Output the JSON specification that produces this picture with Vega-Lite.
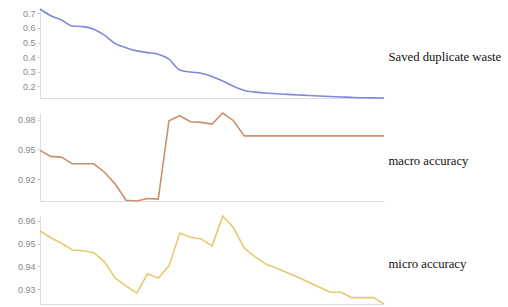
{
  "$schema": "https://vega.github.io/schema/vega-lite/v6.json",
  "padding": {"left": 17, "top": 5, "right": 5, "bottom": 2},
  "spacing": 7,
  "align": "none",
  "config": {
    "view": {"stroke": null},
    "axis": {"grid": false, "domainColor": "#dddddd", "tickColor": "#cccccc", "labelColor": "#888888", "labelFontSize": 9, "labelFont": "Liberation Sans", "tickSize": 3, "title": null},
    "axisX": {"labels": false, "ticks": false, "minExtent": 0, "maxExtent": 0, "labelPadding": 0},
    "axisRight": {"labels": false, "ticks": false, "domain": false, "titleAngle": 0, "titleAlign": "left", "titleBaseline": "middle", "titleFont": "Liberation Serif", "titleFontSize": 12.7, "titleFontWeight": "normal", "titleColor": "#111111", "titlePadding": 4, "minExtent": 0}
  },
  "data": {"values": [
    {"i": 0, "waste": 0.73, "macro": 0.949, "micro": 0.9556},
    {"i": 1, "waste": 0.684, "macro": 0.9429, "micro": 0.9526},
    {"i": 2, "waste": 0.655, "macro": 0.9422, "micro": 0.9502},
    {"i": 3, "waste": 0.614, "macro": 0.9354, "micro": 0.9472},
    {"i": 4, "waste": 0.609, "macro": 0.9354, "micro": 0.9469},
    {"i": 5, "waste": 0.592, "macro": 0.9354, "micro": 0.946},
    {"i": 6, "waste": 0.551, "macro": 0.9269, "micro": 0.942},
    {"i": 7, "waste": 0.493, "macro": 0.915, "micro": 0.9348},
    {"i": 8, "waste": 0.465, "macro": 0.8985, "micro": 0.9314},
    {"i": 9, "waste": 0.443, "macro": 0.8978, "micro": 0.9282},
    {"i": 10, "waste": 0.431, "macro": 0.9003, "micro": 0.9367},
    {"i": 11, "waste": 0.42, "macro": 0.8997, "micro": 0.9348},
    {"i": 12, "waste": 0.386, "macro": 0.979, "micro": 0.9402},
    {"i": 13, "waste": 0.312, "macro": 0.984, "micro": 0.9546},
    {"i": 14, "waste": 0.298, "macro": 0.978, "micro": 0.9528},
    {"i": 15, "waste": 0.29, "macro": 0.9773, "micro": 0.9521},
    {"i": 16, "waste": 0.268, "macro": 0.9756, "micro": 0.949},
    {"i": 17, "waste": 0.237, "macro": 0.9868, "micro": 0.9622},
    {"i": 18, "waste": 0.2, "macro": 0.979, "micro": 0.957},
    {"i": 19, "waste": 0.172, "macro": 0.9637, "micro": 0.948},
    {"i": 20, "waste": 0.16, "macro": 0.9637, "micro": 0.9443},
    {"i": 21, "waste": 0.154, "macro": 0.9637, "micro": 0.941},
    {"i": 22, "waste": 0.149, "macro": 0.9637, "micro": 0.9392},
    {"i": 23, "waste": 0.145, "macro": 0.9637, "micro": 0.9372},
    {"i": 24, "waste": 0.141, "macro": 0.9637, "micro": 0.9352},
    {"i": 25, "waste": 0.137, "macro": 0.9637, "micro": 0.933},
    {"i": 26, "waste": 0.134, "macro": 0.9637, "micro": 0.9308},
    {"i": 27, "waste": 0.13, "macro": 0.9637, "micro": 0.9286},
    {"i": 28, "waste": 0.127, "macro": 0.9637, "micro": 0.9286},
    {"i": 29, "waste": 0.124, "macro": 0.9637, "micro": 0.9262},
    {"i": 30, "waste": 0.122, "macro": 0.9637, "micro": 0.9262},
    {"i": 31, "waste": 0.121, "macro": 0.9637, "micro": 0.9262},
    {"i": 32, "waste": 0.12, "macro": 0.9637, "micro": 0.9234}
  ]},
  "vconcat": [
    {
      "width": 344, "height": 89,
      "encoding": {
        "x": {"field": "i", "type": "quantitative", "scale": {"nice": false, "zero": false}}
      },
      "layer": [
        {
          "mark": {"type": "line", "color": "#8088d8", "strokeWidth": 1.6, "interpolate": "monotone"},
          "encoding": {
            "y": {"field": "waste", "type": "quantitative", "scale": {"nice": false, "zero": false}, "axis": {"values": [0.2, 0.3, 0.4, 0.5, 0.6, 0.7], "format": ".1f"}}
          }
        },
        {
          "mark": {"type": "line", "strokeOpacity": 0},
          "encoding": {
            "y": {"field": "waste", "type": "quantitative", "scale": {"nice": false, "zero": false}, "axis": {"orient": "right", "title": "Saved duplicate waste", "titleY": 47.5}}
          }
        }
      ],
      "resolve": {"scale": {"y": "independent"}, "axis": {"y": "independent"}}
    },
    {
      "width": 344, "height": 88,
      "encoding": {
        "x": {"field": "i", "type": "quantitative", "scale": {"nice": false, "zero": false}}
      },
      "layer": [
        {
          "mark": {"type": "line", "color": "#c8906c", "strokeWidth": 1.6},
          "encoding": {
            "y": {"field": "macro", "type": "quantitative", "scale": {"nice": false, "zero": false}, "axis": {"values": [0.92, 0.95, 0.98], "format": ".2f"}}
          }
        },
        {
          "mark": {"type": "line", "strokeOpacity": 0},
          "encoding": {
            "y": {"field": "macro", "type": "quantitative", "scale": {"nice": false, "zero": false}, "axis": {"orient": "right", "title": "macro accuracy", "titleY": 47}}
          }
        }
      ],
      "resolve": {"scale": {"y": "independent"}, "axis": {"y": "independent"}}
    },
    {
      "width": 344, "height": 88,
      "encoding": {
        "x": {"field": "i", "type": "quantitative", "scale": {"nice": false, "zero": false}}
      },
      "layer": [
        {
          "mark": {"type": "line", "color": "#e8c870", "strokeWidth": 1.6},
          "encoding": {
            "y": {"field": "micro", "type": "quantitative", "scale": {"nice": false, "zero": false}, "axis": {"values": [0.93, 0.94, 0.95, 0.96], "format": ".2f"}}
          }
        },
        {
          "mark": {"type": "line", "strokeOpacity": 0},
          "encoding": {
            "y": {"field": "micro", "type": "quantitative", "scale": {"nice": false, "zero": false}, "axis": {"orient": "right", "title": "micro accuracy", "titleY": 47}}
          }
        }
      ],
      "resolve": {"scale": {"y": "independent"}, "axis": {"y": "independent"}}
    }
  ]
}
